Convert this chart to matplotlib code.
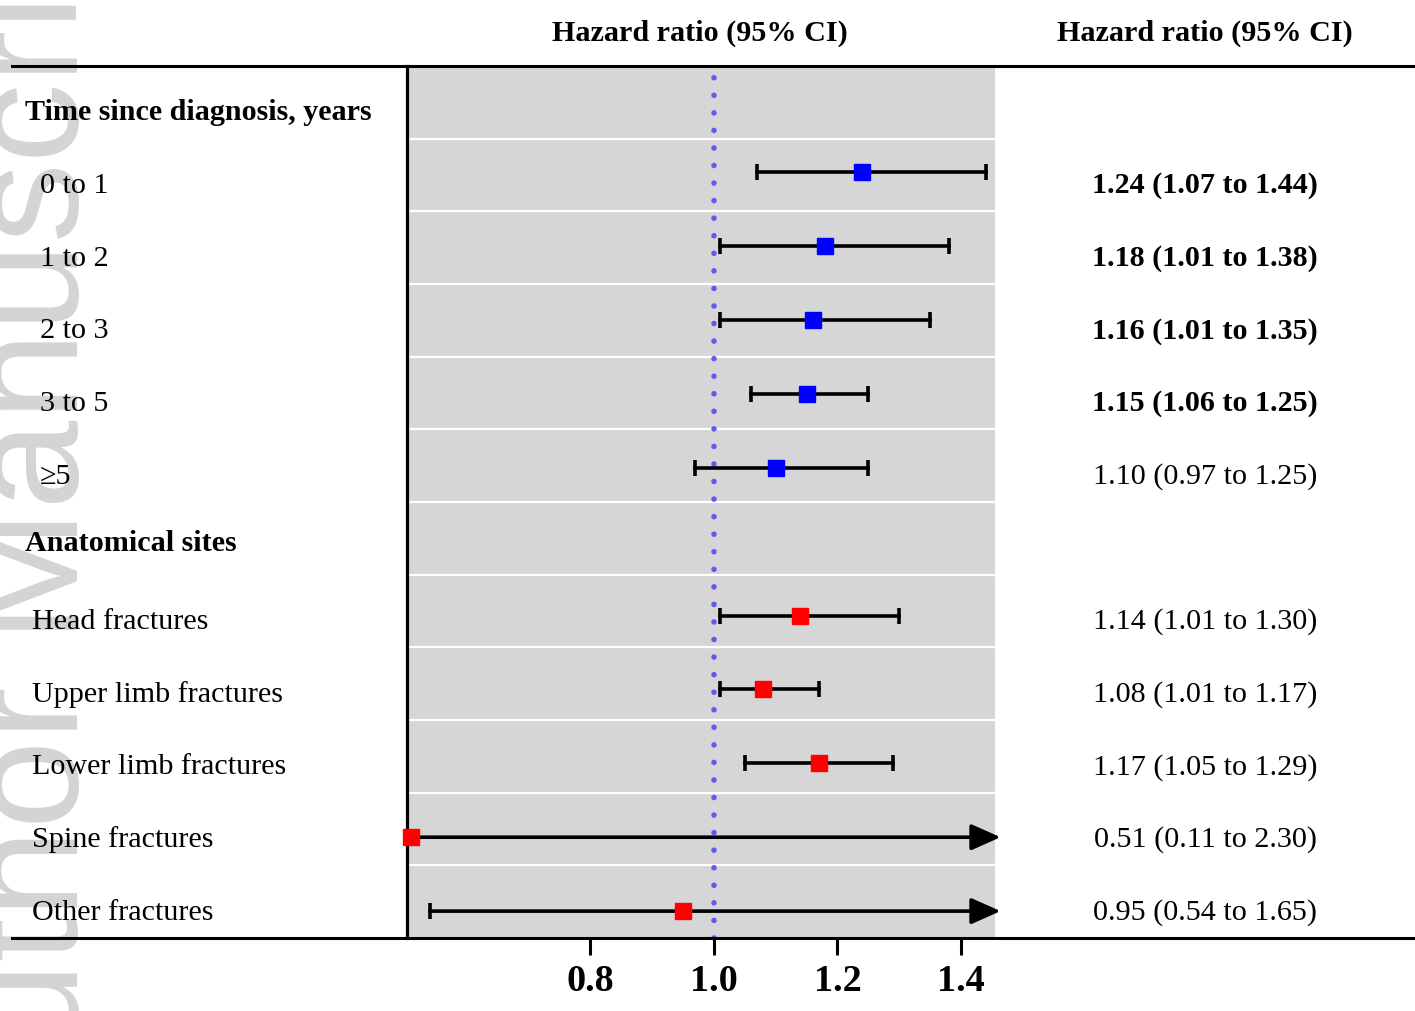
import matplotlib
matplotlib.use("Agg")
import matplotlib.pyplot as plt
from matplotlib.lines import Line2D
from matplotlib.transforms import blended_transform_factory

plt.rcParams["font.family"] = "Liberation Serif"

# time since diagnosis
time_labels = ["0 to 1", "1 to 2", "2 to 3", "3 to 5", "\u22655"]
time_hr = [1.24, 1.18, 1.16, 1.15, 1.10]
time_lo = [1.07, 1.01, 1.01, 1.06, 0.97]
time_hi = [1.44, 1.38, 1.35, 1.25, 1.25]
time_bold = [True, True, True, True, False]

# anatomical sites
site_labels = ["Head fractures", "Upper limb fractures", "Lower limb fractures",
               "Spine fractures", "Other fractures"]
site_hr = [1.14, 1.08, 1.17, 0.51, 0.95]
site_lo = [1.01, 1.01, 1.05, 0.11, 0.54]
site_hi = [1.30, 1.17, 1.29, 2.30, 1.65]
site_bold = [False, False, False, False, False]

headers = ["Time since diagnosis, years", "Anatomical sites"]
col_title = "Hazard ratio (95% CI)"
xticks = [0.8, 1.0, 1.2, 1.4]
xmin, xmax = 0.503, 1.455

W, H = 1415, 1011
fig = plt.figure(figsize=(W / 100, H / 100), dpi=100)

# watermark on the left edge
fig.text(78 / W, -0.1445, "Author Manuscript", rotation=90, rotation_mode="anchor",
         ha="left", va="baseline", fontsize=115, color="#d4d4d4",
         family="Liberation Sans", zorder=-1)

ax = fig.add_axes([407 / W, 1 - 938 / H, (995 - 407) / W, (938 - 66) / H])
ax.set_facecolor("#d6d6d6")
ax.set_xlim(xmin, xmax)
ax.set_ylim(12, 0)
for s in ["top", "right", "bottom"]:
    ax.spines[s].set_visible(False)
ax.spines["left"].set_linewidth(2.3)
ax.set_yticks([])
ax.set_xticks(xticks)
ax.set_xticklabels([f"{t:.1f}" for t in xticks], fontsize=27.5, fontweight="bold")
ax.tick_params(axis="x", length=12, width=2.2, pad=7)

for b in range(1, 12):
    ax.axhline(b, color="white", lw=1.6, zorder=1)
ax.axvline(1.0, color="#5c5cef", lw=4, linestyle=(0, (0.01, 3.15)),
           dash_capstyle="round", zorder=2)

# frame lines across the whole table
fig.add_artist(Line2D([12 / W, 1], [1 - 66 / H] * 2, color="k", lw=2.2))
fig.add_artist(Line2D([12 / W, 1], [1 - 938 / H] * 2, color="k", lw=2.2))

tr = blended_transform_factory(fig.transFigure, ax.transData)


def draw_row(row, label, hr, lo, hi, bold, color, label_x):
    # marks sit a little off the band centres, drifting down the table
    y = 1.46 + (row - 1) * 1.017
    left = max(lo, xmin)
    if hi > xmax:
        ax.annotate("", xy=(1.464, y), xytext=(left, y),
                    arrowprops=dict(arrowstyle="-|>,head_length=0.9,head_width=0.4",
                                    mutation_scale=20, lw=2.6, color="k",
                                    shrinkA=0, shrinkB=0),
                    annotation_clip=False, zorder=3)
    else:
        ax.plot([left, hi], [y, y], color="k", lw=2.6, zorder=3)
    for v in (lo, hi):
        if xmin <= v <= xmax:
            ax.plot([v], [y], marker="|", ms=11.5, mew=2.6, color="k", zorder=3)
    ax.plot([hr], [y], marker="s", ms=11, color=color, zorder=5, clip_on=False)

    ax.text(label_x / W, row + 0.75, label, transform=tr, fontsize=21.7,
            ha="left", va="baseline")
    ax.text(1205 / W, row + 0.75, f"{hr:.2f} ({lo:.2f} to {hi:.2f})", transform=tr,
            fontsize=21.7, ha="center", va="baseline",
            fontweight="bold" if bold else "normal")


ax.text(25 / W, 0.74, headers[0], transform=tr, fontsize=21.7, fontweight="bold",
        ha="left", va="baseline")
for i in range(len(time_labels)):
    draw_row(1 + i, time_labels[i], time_hr[i], time_lo[i], time_hi[i],
             time_bold[i], "#0000ff", 40)

ax.text(25 / W, 6.68, headers[1], transform=tr, fontsize=21.7, fontweight="bold",
        ha="left", va="baseline")
for i in range(len(site_labels)):
    draw_row(7 + i, site_labels[i], site_hr[i], site_lo[i], site_hi[i],
             site_bold[i], "#ff0000", 32)

fig.text(700 / W, 1 - 41 / H, col_title, ha="center", va="baseline",
         fontsize=21.7, fontweight="bold")
fig.text(1205 / W, 1 - 41 / H, col_title, ha="center", va="baseline",
         fontsize=21.7, fontweight="bold")

fig.savefig("out.png", dpi=100)
